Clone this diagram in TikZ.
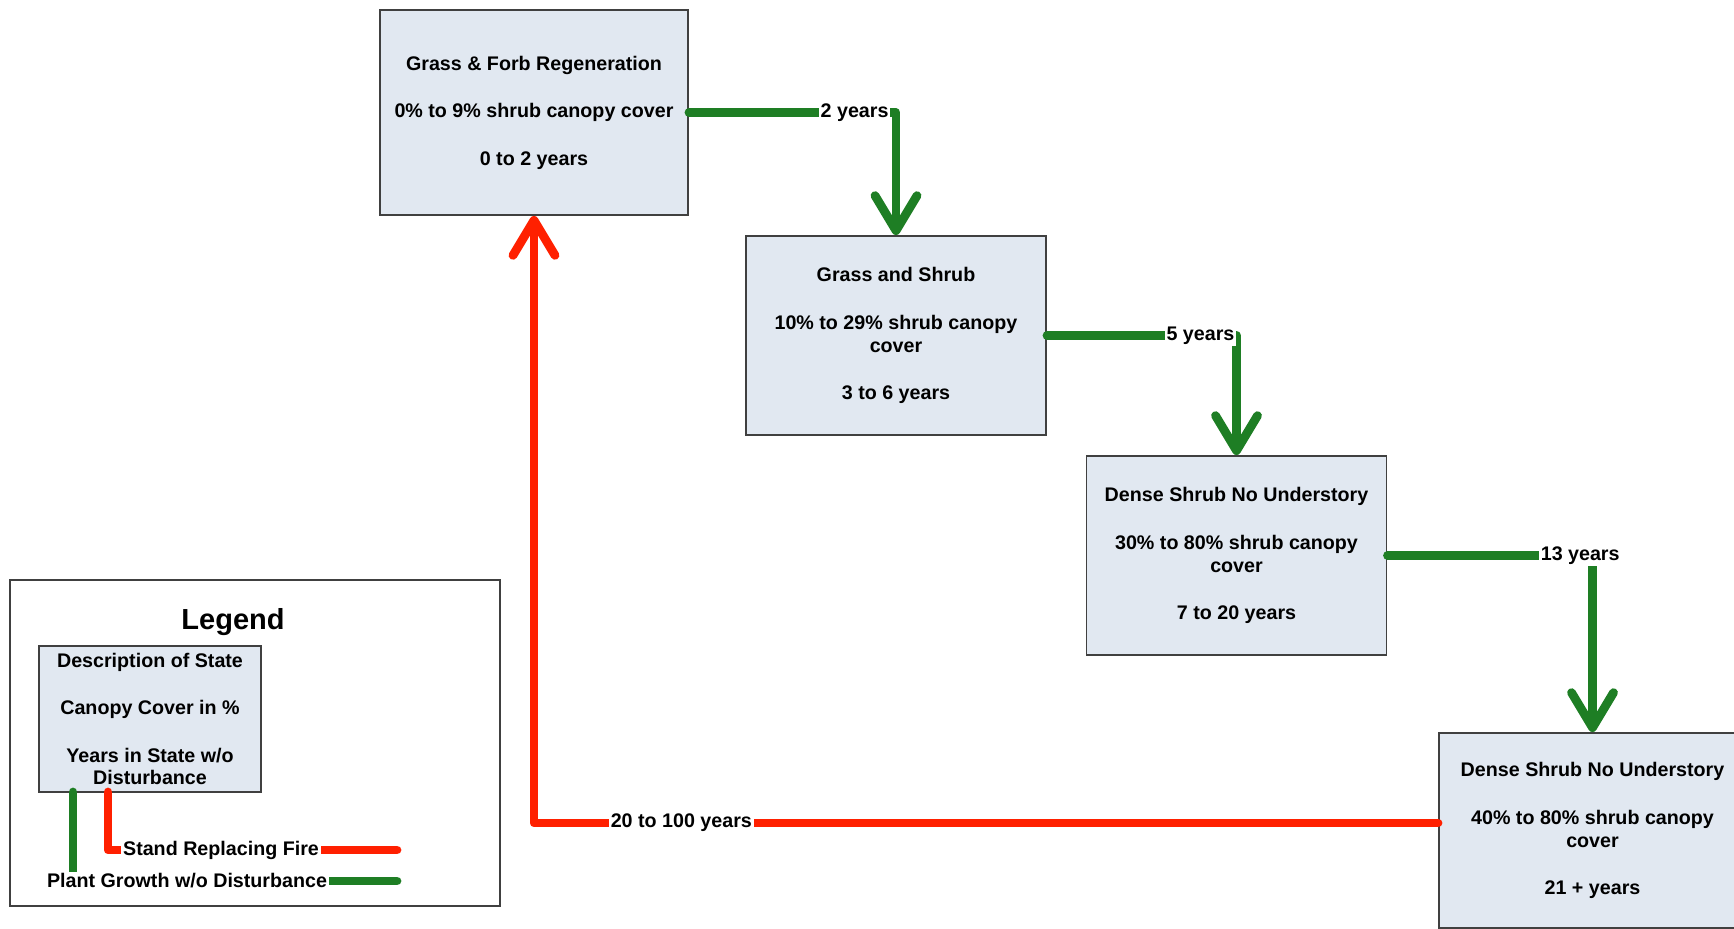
\documentclass[tikz,border=0pt]{standalone}
\usepackage{fontspec}
\setmainfont{Liberation Sans}
\usepackage{tikz}
\usetikzlibrary{arrows.meta,positioning}
\definecolor{statefill}{RGB}{225,232,241}
\definecolor{growgreen}{RGB}{30,126,36}
\definecolor{firered}{RGB}{255,32,0}

\begin{document}
\begin{tikzpicture}[statebox/.style={draw=black!75,line width=1.1pt,fill=statefill,minimum width=6.0cm,minimum height=3.98cm,align=center,font=\fontsize{11.2}{13}\selectfont\bfseries,inner sep=2pt},
growth/.style={draw=growgreen,line width=5pt,line cap=round,line join=round},
fire/.style={draw=firered,line width=5pt,line cap=round,line join=round},
tipv/.style={-{Straight Barb[length=7mm,width=8.4mm,round]}},
yrs/.style={fill=white,inner sep=1pt,font=\fontsize{11.2}{13}\selectfont\bfseries}]
\useasboundingbox (0,0) rectangle (34.68,18.56);
\node[statebox,minimum width=6.16cm,minimum height=4.1cm] (gf) at (10.68,16.31) {Grass \& Forb Regeneration\\[14pt]0\% to 9\% shrub canopy cover\\[14pt]0 to 2 years};
\node[statebox] (gs) at (17.92,11.85) {Grass and Shrub\\[14pt]10\% to 29\% shrub canopy\\cover\\[14pt]3 to 6 years};
\node[statebox] (ds) at (24.73,7.45) {Dense Shrub No Understory\\[14pt]30\% to 80\% shrub canopy\\cover\\[14pt]7 to 20 years};
\node[statebox,minimum width=6.14cm,minimum height=3.9cm] (dn) at (31.85,1.95) {Dense Shrub No Understory\\[14pt]40\% to 80\% shrub canopy\\cover\\[14pt]21 + years};
\draw[growth,tipv] (gf.east) -- node[yrs,pos=0.8] (y2) {2 years} (gf.east -| gs.north) -- (gs.north);
\draw[growth,tipv] (gs.east) -- node[yrs,pos=0.81] (y5) {5 years} (gs.east -| ds.north) -- (ds.north);
\draw[growth,tipv] (ds.east) -- node[yrs,pos=0.94] (y13) {13 years} (ds.east -| dn.north) -- (dn.north);
\draw[fire,tipv] ([yshift=0.15cm]dn.west) -- node[yrs,pos=0.837] (y20) {20 to 100 years} ([yshift=0.15cm]dn.west -| gf.south) -- (gf.south);
\node[draw=black!75,line width=1pt,minimum width=9.8cm,minimum height=6.52cm] (lg) at (5.10,3.70) {};
\node[anchor=base,font=\fontsize{16.5}{19}\selectfont\bfseries] (lgt) at (4.66,5.96) {Legend};
\node[statebox,minimum width=4.44cm,minimum height=2.92cm,inner sep=0pt] (key) at (3.00,4.18) {Description of State\\[14pt]Canopy Cover in \%\\[14pt]Years in State w/o\\Disturbance};
\coordinate (gtop) at (1.46,2.72);
\coordinate (gend) at (7.94,0.94);
\coordinate (ftop) at (2.16,2.72);
\coordinate (fend) at (7.94,1.56);
\draw[growth] (gtop) -- (gtop |- gend) -- node[yrs,pos=0.352] (pg) {Plant Growth w/o Disturbance} (gend);
\draw[fire] (ftop) -- (ftop |- fend) -- node[yrs,pos=0.391] (srf) {Stand Replacing Fire} (fend);
\end{tikzpicture}
\end{document}
